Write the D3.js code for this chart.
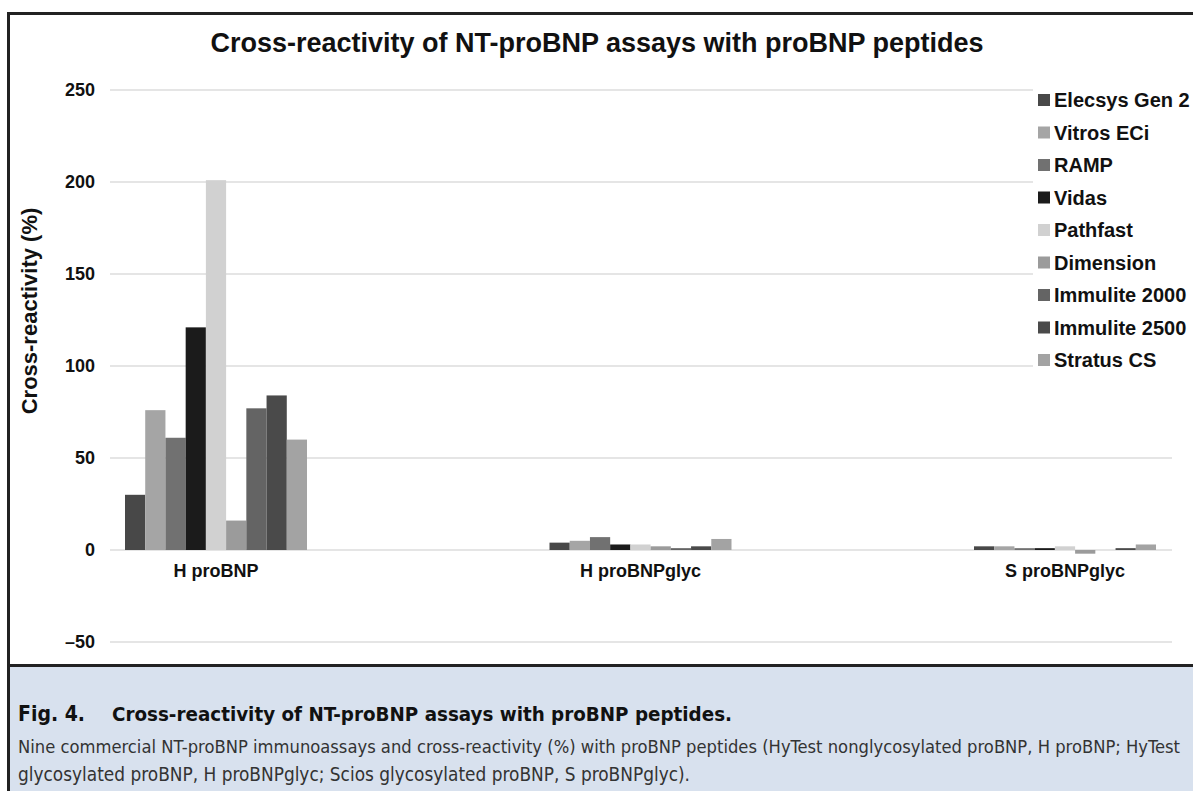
<!DOCTYPE html>
<html>
  <head>
    <meta charset="utf-8">
    <title>Cross-reactivity of NT-proBNP assays</title>
    <script src="https://d3js.org/d3.v7.min.js"></script>
    <style>
      body { margin: 0; background: #fff; }
      svg { display: block; }
      .lbl { font-family: "Liberation Sans", Arial, sans-serif; font-weight: bold; fill: #111; }
      .cap { font-family: "Liberation Sans Narrow", "DejaVu Sans Condensed", "Roboto", sans-serif; }
      .fig { font-family: "DejaVu Sans Condensed", "DejaVu Sans", sans-serif; }
    </style>
  </head>
  <body>
    <div id="chart"></div>
    <script>
      // data
      const categories = ["H proBNP", "H proBNPglyc", "S proBNPglyc"];
      const assays = ["Elecsys Gen 2", "Vitros ECi", "RAMP", "Vidas", "Pathfast",
        "Dimension", "Immulite 2000", "Immulite 2500", "Stratus CS"];
      const assayColors = ["#484848", "#a5a5a5", "#717171", "#1b1b1b", "#d1d1d1",
        "#9b9b9b", "#646464", "#4a4a4a", "#a3a3a3"];
      const hProBNP = [30, 76, 61, 121, 201, 16, 77, 84, 60];
      const hProBNPglyc = [4, 5, 7, 3, 3, 2, 1, 2, 6];
      const sProBNPglyc = [2, 2, 1, 1, 2, -2, 0, 1, 3];
      const yTicks = [-50, 0, 50, 100, 150, 200, 250];
      const yTickLabels = ["\u201350", "0", "50", "100", "150", "200", "250"];

      const seriesByCat = [hProBNP, hProBNPglyc, sProBNPglyc];

      const width = 1193, height = 791;
      const svg = d3.select("#chart").append("svg")
        .attr("width", width)
        .attr("height", height);

      // background + caption panel
      svg.append("rect").attr("width", width).attr("height", height).attr("fill", "#fff");
      svg.append("rect")
        .attr("x", 9).attr("y", 667).attr("width", width - 9).attr("height", height - 667)
        .attr("fill", "#d8e1ee");

      // scales
      const y = d3.scaleLinear().domain([-50, 250]).range([642, 90]);
      const x = d3.scalePoint().domain(categories).range([216, 1065]);
      const xInner = d3.scaleBand().domain(assays).range([-91, 91]).padding(0);
      const gridLeft = 110, gridRight = 1172;

      // gridlines
      svg.append("g")
        .selectAll("line")
        .data(yTicks)
        .join("line")
          .attr("x1", gridLeft)
          .attr("x2", gridRight)
          .attr("y1", function(d) { return y(d); })
          .attr("y2", function(d) { return y(d); })
          .attr("stroke", "#dcdcdc")
          .attr("stroke-width", 1.5);

      // y tick labels
      svg.append("g")
        .selectAll("text")
        .data(yTicks)
        .join("text")
          .attr("class", "lbl")
          .attr("x", 95)
          .attr("y", function(d) { return y(d); })
          .attr("dy", "0.35em")
          .attr("text-anchor", "end")
          .attr("font-size", 18)
          .text(function(d, i) { return yTickLabels[i]; });

      // bars
      const groups = svg.append("g")
        .selectAll("g")
        .data(categories)
        .join("g")
          .attr("transform", function(d) { return "translate(" + x(d) + ",0)"; });
      groups.selectAll("rect")
        .data(function(d, i) {
          return seriesByCat[i].map(function(v, j) { return { assay: assays[j], value: v, color: assayColors[j] }; });
        })
        .join("rect")
          .attr("x", function(d) { return xInner(d.assay); })
          .attr("width", xInner.bandwidth())
          .attr("y", function(d) { return y(Math.max(0, d.value)); })
          .attr("height", function(d) { return Math.abs(y(d.value) - y(0)); })
          .attr("fill", function(d) { return d.color; });

      // category labels
      svg.append("g")
        .selectAll("text")
        .data(categories)
        .join("text")
          .attr("class", "lbl")
          .attr("x", function(d) { return x(d); })
          .attr("y", 577)
          .attr("text-anchor", "middle")
          .attr("font-size", 18)
          .text(function(d) { return d; });

      // y axis title
      svg.append("text")
        .attr("class", "lbl")
        .attr("transform", "translate(37,311) rotate(-90)")
        .attr("text-anchor", "middle")
        .attr("font-size", 22)
        .text("Cross-reactivity (%)");

      // chart title
      svg.append("text")
        .attr("class", "lbl")
        .attr("x", 597)
        .attr("y", 52)
        .attr("text-anchor", "middle")
        .attr("font-size", 27)
        .text("Cross-reactivity of NT-proBNP assays with proBNP peptides");

      // legend (white box over the gridlines)
      const legend = svg.append("g");
      legend.append("rect")
        .attr("x", 1033).attr("y", 80).attr("width", width - 1033).attr("height", 298)
        .attr("fill", "#fff");
      const rowStep = 32.5;
      const items = legend.selectAll("g")
        .data(assays)
        .join("g")
          .attr("transform", function(d, i) { return "translate(1038," + (100 + i * rowStep) + ")"; });
      items.append("rect")
        .attr("x", 0).attr("y", -6).attr("width", 12).attr("height", 12)
        .attr("fill", function(d, i) { return assayColors[i]; });
      items.append("text")
        .attr("class", "lbl")
        .attr("x", 16)
        .attr("dy", "0.35em")
        .attr("font-size", 20)
        .text(function(d) { return d; });

      // frame lines
      svg.append("line").attr("x1", 7).attr("x2", width).attr("y1", 13.5).attr("y2", 13.5)
        .attr("stroke", "#222").attr("stroke-width", 3);
      svg.append("line").attr("x1", 8.5).attr("x2", 8.5).attr("y1", 12).attr("y2", height)
        .attr("stroke", "#222").attr("stroke-width", 3);
      svg.append("line").attr("x1", 7).attr("x2", width).attr("y1", 665.5).attr("y2", 665.5)
        .attr("stroke", "#222").attr("stroke-width", 3);

      // caption: shrink the font until the natural width fits, then pin the width
      const captionPieces = [
        { text: "Fig. 4.", cls: "fig", x: 18, y: 721, w: null, bold: true, size: 21 },
        { text: "Cross-reactivity of NT-proBNP assays with proBNP peptides.", cls: "cap", x: 112, y: 721, w: 620, bold: true, size: 20 },
        { text: "Nine commercial NT-proBNP immunoassays and cross-reactivity (%) with proBNP peptides (HyTest nonglycosylated proBNP, H proBNP; HyTest", cls: "cap", x: 18, y: 753, w: 1162, bold: false, size: 19 },
        { text: "glycosylated proBNP, H proBNPglyc; Scios glycosylated proBNP, S proBNPglyc).", cls: "cap", x: 18, y: 781, w: 672, bold: false, size: 19 }
      ];
      svg.append("g")
        .selectAll("text")
        .data(captionPieces)
        .join("text")
          .attr("class", function(d) { return d.cls; })
          .attr("x", function(d) { return d.x; })
          .attr("y", function(d) { return d.y; })
          .attr("font-size", function(d) { return d.size; })
          .attr("font-weight", function(d) { return d.bold ? "bold" : "normal"; })
          .attr("fill", function(d) { return d.bold ? "#111" : "#333"; })
          .text(function(d) { return d.text; })
          .each(function(d) {
            if (!d.w) return;
            const natural = this.getComputedTextLength();
            const el = d3.select(this);
            if (natural > d.w) el.attr("font-size", d.size * d.w / natural);
            el.attr("textLength", d.w).attr("lengthAdjust", "spacingAndGlyphs");
          });
    </script>
  </body>
</html>
